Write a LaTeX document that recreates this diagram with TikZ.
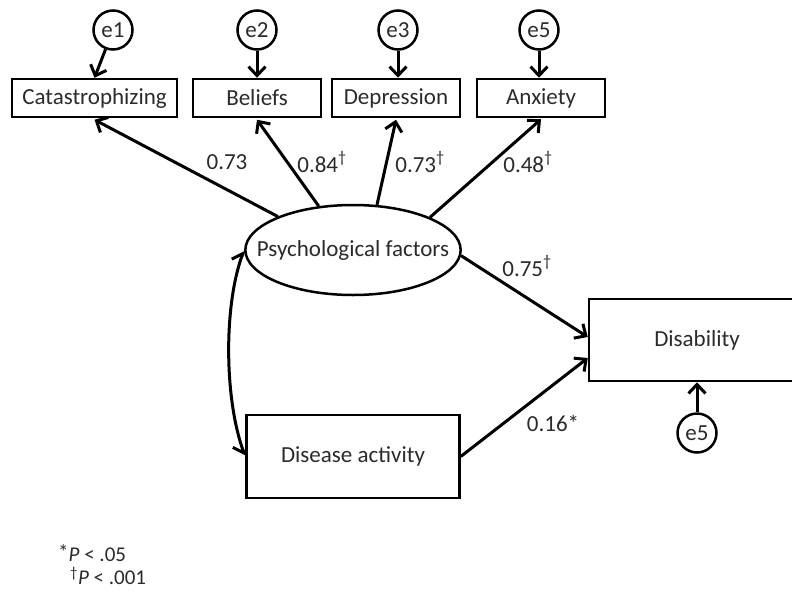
\documentclass[tikz,border=0pt]{standalone}
\usepackage{fontspec}
\setmainfont{Carlito}
\usetikzlibrary{arrows.meta,shapes.geometric}
\definecolor{txt}{rgb}{0.17,0.17,0.17}
\begin{document}
\begin{tikzpicture}[x=1pt,y=-1pt,
  font=\fontsize{23}{27}\selectfont,
  every node/.style={text=txt, inner sep=0pt},
  obs/.style={draw=black, line width=2.5pt, rectangle, minimum height=38pt},
  err/.style={draw=black, line width=2.5pt, circle, minimum size=39pt},
  lat/.style={draw=black, line width=2.5pt, ellipse, inner xsep=-20pt, inner ysep=0pt, minimum width=214pt, minimum height=90pt},
  arr/.style={draw=black, line width=3pt, -{Straight Barb[length=9pt,width=17pt,line width=3pt]}},
  cov/.style={draw=black, line width=3pt, {Straight Barb[left,length=9pt,width=17pt,line width=3pt]}-{Straight Barb[right,length=9pt,width=17pt,line width=3pt]}},
  lbl/.style={font=\fontsize{23}{27}\selectfont}
]
\clip (0,0) rectangle (792,595);
\fill[white] (0,0) rectangle (792,595);

% observed indicators
\node[obs, minimum width=165pt] (cat) at (94.5,98) {Catastrophizing};
\node[obs, minimum width=128pt] (bel) at (257,98) {Beliefs};
\node[obs, minimum width=128pt] (dep) at (396,98) {Depression};
\node[obs, minimum width=128pt] (anx) at (541,98) {Anxiety};

% error terms
\node[err] (e1) at (113,30) {e1};
\node[err] (e2) at (257,30) {e2};
\node[err] (e3) at (398,30) {e3};
\node[err] (e5a) at (539,30) {e5};

% latent
\node[lat] (psy) at (353,250) {Psychological factors};

% disease activity & disability
\node[obs, minimum width=213pt, minimum height=83pt] (dis) at (353,456.5) {Disease activity};
\node[obs, minimum width=216pt, minimum height=82pt] (disab) at (697,340) {Disability};
\node[err] (e5b) at (697,433) {e5};

% error arrows
\draw[arr] (e1) -- (cat.north);
\draw[arr] (e2) -- (bel.north);
\draw[arr] (e3) -- (e3 |- dep.north);
\draw[arr] (e5a) -- (e5a |- anx.north);
\draw[arr] (e5b) -- (disab.south);

% loadings
\draw[arr] (psy.156) -- ([yshift=-1.5pt]cat.south);
\draw[arr] (psy.128) -- ([yshift=-1.5pt]bel.south);
\draw[arr] (psy.62) -- ([yshift=-1.5pt]dep.south);
\draw[arr] (psy.23) -- ([yshift=-1pt]anx.south);

% structural paths
\draw[arr] (psy.-3) -- ([yshift=3pt]disab.west);
\draw[arr] (dis.east) -- ([yshift=-18pt]disab.west);

% covariance
\draw[cov] (psy.west) to[out=250,in=110,looseness=0.75] (dis.west);

% labels
\node[lbl] (l1) at (227,162) {0.73};
\node[lbl] (l2) at (322,162) {0.84\textsuperscript{†}};
\node[lbl] (l3) at (420,162) {0.73\textsuperscript{†}};
\node[lbl] (l4) at (528,162) {0.48\textsuperscript{†}};
\node[lbl] (l5) at (527,266) {0.75\textsuperscript{†}};
\node[lbl] (l6) at (553,423) {0.16*};

% footnotes
\node[anchor=west, font=\fontsize{21}{25}\selectfont] (f1) at (58,553) {\raisebox{2pt}{*}\textit{P} < .05};
\node[anchor=west, font=\fontsize{21}{25}\selectfont] (f2) at (70,576) {\textsuperscript{†}\textit{P} < .001};
\end{tikzpicture}
\end{document}
